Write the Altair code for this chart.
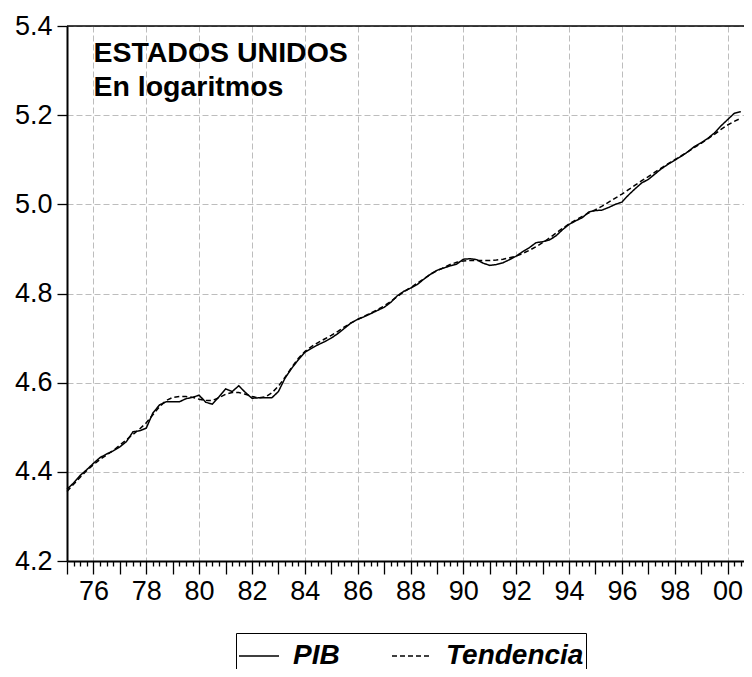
import altair as alt
import pandas as pd

# Quarterly observations 1975Q1 .. 2000Q3
years = [1975 + i * 0.25 for i in range(103)]

pib = [
    4.361, 4.375, 4.392, 4.405,
    4.419, 4.432, 4.440, 4.447,
    4.456, 4.468, 4.490, 4.492,
    4.498, 4.532, 4.550, 4.557,
    4.557, 4.557, 4.564, 4.567,
    4.572, 4.556, 4.552, 4.568,
    4.586, 4.580, 4.593, 4.578,
    4.565, 4.566, 4.566, 4.566,
    4.580, 4.610, 4.632, 4.651,
    4.668, 4.677, 4.685, 4.692,
    4.700, 4.710, 4.722, 4.734,
    4.742, 4.748, 4.755, 4.762,
    4.769, 4.780, 4.795, 4.805,
    4.812, 4.820, 4.832, 4.843,
    4.852, 4.857, 4.862, 4.866,
    4.877, 4.878, 4.876, 4.868,
    4.863, 4.865, 4.869, 4.876,
    4.884, 4.894, 4.903, 4.914,
    4.916, 4.920, 4.929, 4.943,
    4.955, 4.963, 4.970, 4.983,
    4.986, 4.987, 4.993, 5.000,
    5.005, 5.021, 5.035, 5.048,
    5.056, 5.068, 5.080, 5.090,
    5.099, 5.108, 5.118, 5.130,
    5.138, 5.148, 5.160, 5.176,
    5.190, 5.204, 5.208,
]

tendencia = [
    4.356, 4.372, 4.388, 4.403,
    4.416, 4.428, 4.438, 4.448,
    4.460, 4.472, 4.484, 4.496,
    4.510, 4.528, 4.546, 4.560,
    4.567, 4.569, 4.569, 4.567,
    4.563, 4.560, 4.560, 4.566,
    4.574, 4.578, 4.578, 4.574,
    4.569, 4.566, 4.568, 4.577,
    4.592, 4.612, 4.634, 4.654,
    4.670, 4.681, 4.690, 4.698,
    4.706, 4.715, 4.725, 4.734,
    4.742, 4.749, 4.756, 4.764,
    4.772, 4.782, 4.793, 4.804,
    4.813, 4.823, 4.833, 4.843,
    4.851, 4.858, 4.865, 4.870,
    4.873, 4.874, 4.874, 4.874,
    4.874, 4.875, 4.877, 4.880,
    4.884, 4.890, 4.897, 4.905,
    4.914, 4.924, 4.935, 4.946,
    4.956, 4.965, 4.973, 4.981,
    4.988, 4.996, 5.005, 5.014,
    5.023, 5.033, 5.043, 5.053,
    5.062, 5.072, 5.082, 5.091,
    5.100, 5.109, 5.118, 5.128,
    5.137, 5.147, 5.157, 5.168,
    5.178, 5.186, 5.193,
]

series_names = ["PIB", "Tendencia"]
y_ticks = [4.2, 4.4, 4.6, 4.8, 5.0, 5.2, 5.4]
x_ticks = [1975 + i * 0.25 for i in range(103)]

annot_text = ["ESTADOS UNIDOS", "En logaritmos"]
annot_x = [1976.0, 1976.0]
annot_y = [5.320, 5.243]

FONT = "Liberation Sans"

df = pd.concat([
    pd.DataFrame({"t": years, "value": pib, "serie": series_names[0]}),
    pd.DataFrame({"t": years, "value": tendencia, "serie": series_names[1]}),
])

xscale = alt.Scale(domain=[1975, 2000.62], nice=False, zero=False)
yscale = alt.Scale(domain=[4.2, 5.4], nice=False, zero=False)

x_axis = alt.Axis(
    title=None,
    values=x_ticks,
    labelExpr="datum.value % 2 === 0 ? slice('0' + (datum.value % 100), -2) : ''",
    labelOverlap=False,
    labelFlush=False,
    labelFont=FONT,
    labelFontSize=27,
    labelColor="black",
    labelPadding=4,
    tickSize={"condition": {"test": "datum.value % 1 === 0", "value": 13}, "value": 5},
    tickColor="black",
    tickWidth=1.3,
    domainColor="black",
    domainWidth=2,
    grid=True,
    gridColor="#bdbdbd",
    gridDash=[6, 3],
    gridWidth=1,
    gridOpacity={"condition": {"test": "datum.value % 2 === 0", "value": 1}, "value": 0},
)

y_axis = alt.Axis(
    title=None,
    values=y_ticks,
    format=".1f",
    labelFont=FONT,
    labelFontSize=27,
    labelColor="black",
    labelPadding=5,
    tickSize=10,
    tickColor="black",
    tickWidth=1.3,
    domainColor="black",
    domainWidth=2,
    grid=True,
    gridColor="#bdbdbd",
    gridDash=[6, 3],
    gridWidth=1,
)

lines = alt.Chart(df).mark_line(color="black", strokeWidth=1.5).encode(
    x=alt.X("t:Q", scale=xscale, axis=x_axis),
    y=alt.Y("value:Q", scale=yscale, axis=y_axis),
    strokeDash=alt.StrokeDash(
        "serie:N",
        scale=alt.Scale(domain=series_names, range=[[1, 0], [5, 3]]),
        legend=alt.Legend(
            title=None,
            orient="none",
            legendX=169,
            legendY=607,
            direction="horizontal",
            symbolType="stroke",
            symbolSize=1600,
            symbolStrokeWidth=1.3,
            symbolStrokeColor="black",
            labelFont=FONT,
            labelFontSize=28,
            labelFontWeight="bold",
            labelFontStyle="italic",
            labelColor="black",
            labelOffset=13,
            columnPadding=49,
            padding=2,
            strokeColor="black",
            cornerRadius=0,
        ),
    ),
    order="t:Q",
)

top_border = alt.Chart(pd.DataFrame({"y": [5.4]})).mark_rule(
    color="black", strokeWidth=1.5
).encode(y=alt.Y("y:Q", scale=yscale, axis=y_axis))

annot = alt.Chart(pd.DataFrame({"x": annot_x, "y": annot_y, "t": annot_text})).mark_text(
    align="left", baseline="alphabetic", font=FONT, fontSize=28.5, fontWeight="bold", color="black"
).encode(
    x=alt.X("x:Q", scale=xscale, axis=x_axis),
    y=alt.Y("y:Q", scale=yscale, axis=y_axis),
    text="t:N",
)

chart = alt.layer(lines, top_border, annot).properties(
    width=677,
    height=535,
    background="white",
    autosize=alt.AutoSizeParams(type="none"),
    padding={"left": 59, "top": 18, "right": 0, "bottom": 108},
).configure_view(stroke=None)

chart.save("out.html", embed_options={"renderer": "svg", "actions": False})
